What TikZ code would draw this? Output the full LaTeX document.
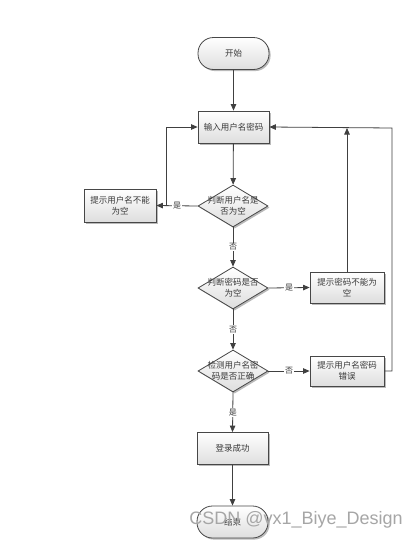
\documentclass[tikz,border=0pt]{standalone}
\usepackage{fontspec}
\newfontfamily\cjk{Noto Sans CJK SC}
\newfontfamily\wmfont{Liberation Sans}
\usetikzlibrary{arrows.meta,shadows,shapes.geometric,calc}
\begin{document}
\begin{tikzpicture}[x=1pt,y=-1pt,
  font=\cjk\fontsize{8.5}{11}\selectfont,
  shapebase/.style={draw=black!72, line width=0.8pt, top color=white, bottom color=black!13,
    drop shadow={shadow xshift=1.6pt, shadow yshift=-1.6pt, fill=black!45, opacity=0.6},
    text=black!78, align=center},
  box/.style={shapebase, rectangle, minimum width=71pt, minimum height=32pt, inner sep=1pt},
  term/.style={box, rounded corners=15.5pt},
  dia/.style={shapebase, diamond, minimum width=70pt, minimum height=42pt, inner sep=0pt},
  conn/.style={draw=black!75, line width=0.8pt, -{Triangle[length=6.5pt,width=5.5pt]}},
  lbl/.style={fill=white, inner sep=1pt, text=black!78, font=\cjk\fontsize{8}{10}\selectfont},
  dtext/.style={align=center, text=black!78, inner sep=0pt}
]
\useasboundingbox[fill=white] (0,0) rectangle (418,541);

\node[term] (start) at (233.5,53.5) {开始};
\node[box] (input) at (233.5,127) {输入用户名密码};
\node[dia] (d1) at (233,206) {};
\node[dtext] (t1) at (d1.center) {判断用户名是\\否为空};
\node[box, minimum width=72pt, minimum height=33pt] (b1) at (120,205.5) {提示用户名不能\\为空};
\node[dia] (d2) at (233,288) {};
\node[dtext] (t2) at (d2.center) {判断密码是否\\为空};
\node[box, minimum width=74pt, minimum height=31pt] (b2) at (347,287.5) {提示密码不能为\\空};
\node[dia] (d3) at (233,371) {};
\node[dtext] (t3) at (d3.center) {检测用户名密\\码是否正确};
\node[box, minimum width=74pt, minimum height=30pt] (b3) at (347,371) {提示用户名密码\\错误};
\node[box] (ok) at (232.5,448.5) {登录成功};
\node[term] (end) at (232.5,522) {结束};

\coordinate (j1) at (166,206);
\coordinate (m2) at (347,128);
\coordinate (r1) at (392,128);

\draw[conn] (start) -- (input);
\draw[conn] (input) -- (d1);
\draw[conn] (d1.west) -- node[lbl] (l1) {是} (b1.east);
\draw[conn] (j1) |- (input.west);
\draw[conn] (d1.south) -- node[lbl] (l2) {否} (d2.north);
\draw[conn] (d2.east) -- node[lbl] (l3) {是} (b2.west);
\draw[conn] (b2.north) -- (m2);
\draw[conn] (d2.south) -- node[lbl] (l4) {否} (d3.north);
\draw[conn] (d3.east) -- node[lbl] (l5) {否} (b3.west);
\draw[conn] (b3.east) -| (r1) -- (input.east);
\draw[conn] (d3.south) -- node[lbl] (l6) {是} (ok.north);
\draw[conn] (ok) -- (end);

\node[text=black!35, font=\wmfont\fontsize{18}{20}\selectfont, inner sep=0pt] (wm) at (296,520) {CSDN @vx1\_Biye\_Design};
\end{tikzpicture}
\end{document}
